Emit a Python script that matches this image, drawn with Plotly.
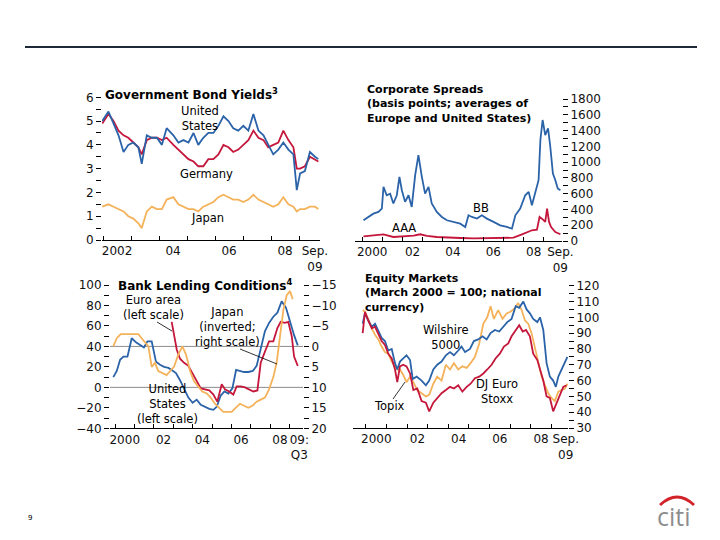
import plotly.graph_objects as go

W, H = 720, 540
FONT = "DejaVu Sans"
BLUE, RED, ORANGE = "#2b63a9", "#c4173b", "#f4b25a"


def px(x):
    return x / W


def py(y):
    return 1 - y / H


# ---------------- data ----------------
# Panel 1: Government bond yields (%), decimal years
gb_years = [2001.97, 2002.19, 2002.37, 2002.55, 2002.73, 2002.90, 2003.08, 2003.26, 2003.38, 2003.56,
            2003.74, 2003.92, 2004.10, 2004.27, 2004.51, 2004.69, 2004.87, 2005.05, 2005.23, 2005.40,
            2005.58, 2005.76, 2005.94, 2006.12, 2006.30, 2006.48, 2006.65, 2006.83, 2007.01, 2007.19,
            2007.37, 2007.55, 2007.73, 2007.90, 2008.08, 2008.26, 2008.44, 2008.62, 2008.80, 2008.92,
            2009.04, 2009.21, 2009.39, 2009.57, 2009.69]
us_yield = [5.0, 5.4, 4.9, 4.4, 3.7, 4.0, 4.1, 3.9, 3.2, 4.4,
            4.3, 4.3, 4.0, 4.7, 4.4, 4.1, 4.2, 4.1, 4.5, 4.0,
            4.3, 4.5, 4.5, 4.8, 5.2, 5.0, 4.7, 4.6, 4.8, 4.6,
            5.3, 4.6, 4.4, 4.0, 3.6, 3.8, 4.1, 3.8, 3.6, 2.1,
            2.8, 2.9, 3.7, 3.5, 3.4]
de_yield = [4.9, 5.3, 5.0, 4.6, 4.4, 4.3, 4.1, 3.9, 3.6, 4.2,
            4.3, 4.3, 4.2, 4.3, 4.0, 3.8, 3.6, 3.4, 3.3, 3.1,
            3.1, 3.4, 3.4, 3.6, 4.0, 3.9, 3.7, 3.8, 4.0, 4.2,
            4.6, 4.3, 4.2, 3.9, 4.0, 4.1, 4.6, 4.2, 3.9, 3.0,
            3.0, 3.1, 3.5, 3.4, 3.3]
jp_yield = [1.4, 1.5, 1.4, 1.3, 1.2, 1.0, 0.9, 0.7, 0.5, 1.2,
            1.4, 1.3, 1.3, 1.7, 1.8, 1.5, 1.4, 1.3, 1.3, 1.2,
            1.4, 1.5, 1.6, 1.8, 1.9, 1.8, 1.7, 1.7, 1.6, 1.7,
            1.9, 1.7, 1.6, 1.5, 1.4, 1.5, 1.8, 1.5, 1.4, 1.2,
            1.3, 1.3, 1.4, 1.4, 1.3]

# Panel 2: Corporate spreads (basis points)
bb_years = [2000.07, 2000.31, 2000.56, 2000.81, 2000.98, 2001.06, 2001.22, 2001.39, 2001.55, 2001.72,
            2001.85, 2001.97, 2002.13, 2002.30, 2002.46, 2002.63, 2002.79, 2002.96, 2003.12, 2003.29,
            2003.45, 2003.70, 2003.95, 2004.20, 2004.53, 2004.86, 2005.11, 2005.27, 2005.44, 2005.69,
            2005.93, 2006.18, 2006.51, 2006.84, 2007.17, 2007.42, 2007.59, 2007.83, 2008.08, 2008.25,
            2008.41, 2008.58, 2008.74, 2008.83, 2008.94, 2009.07, 2009.21, 2009.32, 2009.45, 2009.57,
            2009.69, 2009.82]
bb_spread = [263, 305, 347, 369, 411, 686, 580, 600, 475, 580,
             813, 644, 496, 580, 432, 835, 1089, 813, 600, 686,
             475, 369, 305, 263, 242, 220, 178, 326, 305, 284,
             326, 284, 242, 199, 178, 157, 326, 411, 580, 623,
             453, 600, 771, 1280, 1534, 1343, 1428, 1195, 856, 771,
             665, 644]
aaa_years = [2000.07, 2000.56, 2001.06, 2001.55, 2002.05, 2002.55, 2002.88, 2003.21, 2003.70, 2004.20,
             2004.86, 2005.52, 2006.18, 2006.84, 2007.50, 2007.92, 2008.17, 2008.41, 2008.66, 2008.79,
             2008.96, 2009.07, 2009.16, 2009.26, 2009.36, 2009.57, 2009.82]
aaa_spread = [59, 72, 85, 51, 59, 68, 85, 64, 51, 42,
              38, 34, 34, 38, 42, 85, 114, 136, 144, 305,
              271, 242, 411, 242, 178, 114, 85]

# Panel 3: Bank lending conditions
us_bl_years = [1999.91, 2000.09, 2000.26, 2000.43, 2000.64, 2000.86, 2001.08, 2001.29, 2001.49, 2001.67,
               2001.89, 2002.11, 2002.32, 2002.53, 2002.75, 2002.92, 2003.14, 2003.35, 2003.56, 2003.78,
               2004.00, 2004.21, 2004.42, 2004.64, 2004.86, 2005.07, 2005.24, 2005.45, 2005.64, 2005.84,
               2006.05, 2006.24, 2006.44, 2006.65, 2006.87, 2007.10, 2007.30, 2007.51, 2007.73, 2007.94,
               2008.16, 2008.37, 2008.59, 2008.81, 2009.02, 2009.23, 2009.42]
us_lending = [10, 16, 27, 30, 30, 48, 44, 41, 39, 45,
              45, 25, 22, 20, 19, 17, 14, 7, -1, -10,
              -15, -12, -17, -19, -21, -22, -19, -8, -4, -6,
              -1, 17, 16, 15, 15, 16, 21, 37, 55, 63,
              69, 73, 84, 78, 64, 51, 41]
euro_bl_years = [2002.92, 2003.04, 2003.18, 2003.35, 2003.56, 2003.78, 2003.99, 2004.21, 2004.42, 2004.64,
                 2004.86, 2005.07, 2005.27, 2005.50, 2005.67, 2005.88, 2006.10, 2006.27, 2006.48, 2006.70,
                 2006.91, 2007.13, 2007.34, 2007.51, 2007.73, 2007.94, 2008.16, 2008.37, 2008.54, 2008.76,
                 2008.93, 2009.11, 2009.23, 2009.42]
euro_lending = [64, 51, 37, 28, 24, 21, 14, 7, -1, -2,
                -3, -7, -14, 3, -2, -4, -7, 1, 1, 0,
                -2, -4, -3, 24, 35, 45, 45, 58, 64, 63,
                64, 50, 30, 21]
jp_bl_years = [1999.91, 2000.09, 2000.29, 2000.52, 2000.74, 2000.95, 2001.20, 2001.37, 2001.55, 2001.72,
               2001.89, 2002.06, 2002.23, 2002.46, 2002.66, 2002.84, 2003.04, 2003.26, 2003.47, 2003.66,
               2003.87, 2004.07, 2004.30, 2004.50, 2004.73, 2004.93, 2005.15, 2005.36, 2005.58, 2005.79,
               2006.01, 2006.22, 2006.44, 2006.65, 2006.87, 2007.08, 2007.30, 2007.51, 2007.73, 2007.94,
               2008.16, 2008.33, 2008.51, 2008.68, 2008.85, 2009.02, 2009.16]
jp_lending = [0, -2, -3, -3, -3, -3, -3, -2, -1, 0,
              5, 4, 6, 6.5, 7, 6, 5, 2, 0, 2,
              6, 8.5, 10, 11, 11.5, 12.5, 14, 15, 16, 16,
              16, 15, 14, 14.5, 15, 14.5, 13.5, 13, 12.5, 10.5,
              7.5, 4, -2.5, -9, -12.5, -13.5, -11.5]

# Panel 4: Equity markets (March 2000 = 100)
wil_years = [1999.84, 1999.95, 2000.11, 2000.28, 2000.44, 2000.60, 2000.76, 2000.92, 2001.08, 2001.25,
             2001.41, 2001.52, 2001.65, 2001.81, 2001.97, 2002.14, 2002.27, 2002.46, 2002.70, 2002.91,
             2003.07, 2003.27, 2003.46, 2003.67, 2003.88, 2004.08, 2004.27, 2004.48, 2004.64, 2004.81,
             2005.05, 2005.24, 2005.45, 2005.66, 2005.86, 2006.05, 2006.26, 2006.47, 2006.67, 2006.86,
             2007.07, 2007.27, 2007.44, 2007.64, 2007.80, 2007.96, 2008.12, 2008.32, 2008.45, 2008.61,
             2008.77, 2008.93, 2009.09, 2009.22, 2009.34, 2009.50, 2009.66, 2009.78]
wilshire = [96, 102.5, 98, 94, 96, 91, 87, 85, 79, 80,
            71, 67, 72, 74, 76, 73, 61, 62.5, 60, 57,
            60, 67, 70, 72, 76, 78, 76, 79, 81.5, 78,
            80, 85, 86, 88, 86, 90, 92, 91, 94, 97,
            99, 107, 106, 110, 105, 102.5, 99, 97, 100, 92,
            71, 62.5, 60, 56, 62.5, 67, 71, 75]
stoxx_years = [1999.84, 1999.95, 2000.11, 2000.28, 2000.44, 2000.60, 2000.76, 2000.92, 2001.08, 2001.25,
               2001.41, 2001.52, 2001.65, 2001.81, 2001.97, 2002.14, 2002.30, 2002.49, 2002.70, 2002.91,
               2003.07, 2003.27, 2003.46, 2003.67, 2003.88, 2004.08, 2004.27, 2004.48, 2004.68, 2004.89,
               2005.08, 2005.29, 2005.50, 2005.70, 2005.89, 2006.10, 2006.29, 2006.50, 2006.70, 2006.91,
               2007.07, 2007.27, 2007.44, 2007.61, 2007.77, 2007.96, 2008.12, 2008.32, 2008.45, 2008.61,
               2008.77, 2008.93, 2009.09, 2009.26, 2009.42, 2009.58, 2009.74]
dj_euro_stoxx = [90, 103.5, 98, 93, 94, 90, 85, 82.5, 77, 74,
                 67, 59, 69, 70, 69, 64.5, 54, 55, 47, 46,
                 40.5, 46, 49, 52, 54, 56, 55, 57, 53, 56,
                 58, 61.5, 62.5, 64.5, 67, 70, 74, 77, 81.5, 83.5,
                 88, 92, 95, 91, 92, 88, 77, 73, 67, 60,
                 50, 49, 40.5, 46, 52, 56, 57]
topix_years = [1999.84, 1999.95, 2000.11, 2000.28, 2000.44, 2000.60, 2000.76, 2000.92, 2001.08, 2001.25,
               2001.41, 2001.52, 2001.65, 2001.81, 2001.97, 2002.14, 2002.30, 2002.49, 2002.70, 2002.91,
               2003.07, 2003.27, 2003.46, 2003.67, 2003.88, 2004.08, 2004.27, 2004.48, 2004.68, 2004.89,
               2005.08, 2005.29, 2005.50, 2005.70, 2005.89, 2006.05, 2006.21, 2006.42, 2006.63, 2006.83,
               2007.02, 2007.23, 2007.39, 2007.56, 2007.72, 2007.88, 2008.04, 2008.20, 2008.37, 2008.53,
               2008.69, 2008.85, 2009.01, 2009.17, 2009.34, 2009.50, 2009.66, 2009.78]
topix = [104.6, 103.5, 99, 93, 89, 86, 81.5, 78, 77, 72,
         69, 67, 67, 63.5, 59, 62.5, 59, 54, 52, 50,
         51, 58, 62.5, 60, 70, 67, 71, 67, 69, 68,
         71, 75, 83.5, 96, 100, 107, 99, 104.6, 99, 102.5,
         103.5, 105.7, 109, 104.6, 98, 96, 90, 81.5, 73, 62.5,
         57, 52, 49, 47, 53, 54, 55, 58]

# Tick labels
p1_tick_years = [2002.5, 2004.5, 2006.5, 2008.5, 2009.57]
p1_tick_text = ["2002", "04", "06", "08", "Sep.<br>09"]
p1_year_marks = list(range(2002, 2010))
p2_tick_years = [2000.5, 2002.5, 2004.5, 2006.5, 2008.5, 2009.82]
p2_tick_text = ["2000", "02", "04", "06", "08", "Sep.<br>09"]
p3_tick_years = [2000.5, 2002.5, 2004.5, 2006.5, 2008.5, 2009.5]
p3_tick_text = ["2000", "02", "04", "06", "08", "09:<br>Q3"]
p4_tick_years = [2000.5, 2002.5, 2004.5, 2006.5, 2008.5, 2009.7]
p4_tick_text = ["2000", "02", "04", "06", "08", "Sep.<br>09"]
decade_year_marks = list(range(2000, 2010))

# ---------------- figure ----------------
fig = go.Figure()


def line(x, y, xa, ya, color):
    fig.add_trace(go.Scatter(x=x, y=y, xaxis=xa, yaxis=ya, mode="lines",
                             line=dict(color=color, width=1.8), showlegend=False,
                             hoverinfo="skip"))


# panel 1
line(gb_years, jp_yield, "x", "y", ORANGE)
line(gb_years, de_yield, "x", "y", RED)
line(gb_years, us_yield, "x", "y", BLUE)
# panel 2
line(aaa_years, aaa_spread, "x2", "y2", RED)
line(bb_years, bb_spread, "x2", "y2", BLUE)
# panel 3
line(jp_bl_years, jp_lending, "x3", "y7", ORANGE)
line(us_bl_years, us_lending, "x3", "y3", BLUE)
line(euro_bl_years, euro_lending, "x3", "y3", RED)
# panel 4
line(topix_years, topix, "x4", "y4", ORANGE)
line(wil_years, wilshire, "x4", "y4", BLUE)
line(stoxx_years, dj_euro_stoxx, "x4", "y4", RED)

TICKFONT = dict(family=FONT, size=12, color="#111111")


def xax(x0, x1, rng, tv, tt, marks, anchor):
    return dict(domain=[px(x0), px(x1)], range=rng, anchor=anchor,
                showline=True, linecolor="black", linewidth=1,
                tickmode="array", tickvals=tv, ticktext=tt, ticks="", tickangle=0,
                minor=dict(tickmode="array", tickvals=marks, ticks="inside",
                           ticklen=4, tickwidth=1, tickcolor="black"),
                showgrid=False, zeroline=False, automargin=False,
                fixedrange=True, tickfont=TICKFONT)


def yax(y_bottom, y_top, rng, dtick, mdtick, side, anchor, labels=True, overlaying=None):
    d = dict(range=rng, side=side, anchor=anchor, showline=False,
             ticks="outside", ticklen=5, tickwidth=1, tickcolor="black",
             tickmode="linear", tick0=0, dtick=dtick,
             showgrid=False, zeroline=False, showticklabels=labels,
             automargin=False, fixedrange=True, tickfont=TICKFONT)
    if mdtick:
        d["minor"] = dict(ticks="outside", ticklen=5, tickwidth=1, tickcolor="black",
                          tickmode="linear", tick0=0, dtick=mdtick, showgrid=False)
    if overlaying:
        d["overlaying"] = overlaying
    else:
        d["domain"] = [py(y_bottom), py(y_top)]
    return d


fig.update_layout(
    width=W, height=H, margin=dict(l=0, r=0, t=0, b=0),
    paper_bgcolor="white", plot_bgcolor="rgba(0,0,0,0)", showlegend=False,
    xaxis=xax(102, 320, [2001.96, 2009.75], p1_tick_years, p1_tick_text, p1_year_marks, "y"),
    yaxis=yax(240, 97.3, [0, 6], 1, 0.5, "left", "x"),
    yaxis5=yax(240, 97.3, [0, 6], 0.5, None, "right", "x", labels=False, overlaying="y"),
    xaxis2=xax(355, 562, [1999.65, 2009.9], p2_tick_years, p2_tick_text, decade_year_marks, "y2"),
    yaxis2=yax(241, 99, [0, 1800], 200, 100, "right", "x2"),
    yaxis6=yax(241, 99, [0, 1800], 100, None, "left", "x2", labels=False, overlaying="y2"),
    xaxis3=xax(110, 303, [1999.74, 2009.69], p3_tick_years, p3_tick_text, decade_year_marks, "y3"),
    yaxis3=yax(428.3, 285, [-40, 100], 20, 10, "left", "x3"),
    yaxis7=yax(428.3, 285, [20, -15], 5, 2.5, "right", "x3", overlaying="y3"),
    xaxis4=xax(353, 568, [1999.37, 2009.81], p4_tick_years, p4_tick_text, decade_year_marks, "y4"),
    yaxis4=yax(428, 285.7, [30, 120], 10, 5, "right", "x4"),
    yaxis8=yax(428, 285.7, [30, 120], 5, None, "left", "x4", labels=False, overlaying="y4"),
)

annotations = []


def text(t, x, y, anchor="center", bold=False, size=11.5, color="black", family=FONT, align="center"):
    annotations.append(dict(
        x=px(x), y=py(y), xref="paper", yref="paper",
        text=("<b>%s</b>" % t) if bold else t, showarrow=False,
        xanchor=anchor, yanchor="middle", borderpad=0, align=align,
        font=dict(family=family, size=size, color=color)))


# panel titles
text("Government Bond Yields<sup>3</sup>", 104, 94, anchor="left", bold=True, size=12)
text("Corporate Spreads<br>(basis points; averages of<br>Europe and United States)",
     366, 104, anchor="left", bold=True, size=11, align="left")
text("Bank Lending Conditions<sup>4</sup>", 117, 285, anchor="left", bold=True, size=12)
text("Equity Markets<br>(March 2000 = 100; national<br>currency)",
     364, 293, anchor="left", bold=True, size=11, align="left")

# series labels
text("United<br>States", 200, 118)
text("Germany", 207, 174)
text("Japan", 208, 218)
text("BB", 481, 208)
text("AAA", 404, 228)
text("Euro area<br>(left scale)", 153, 307)
text("Japan<br>(inverted;<br>right scale)", 227, 327)
text("United<br>States<br>(left scale)", 167, 404)
text("Wilshire<br>5000", 446, 337)
text("DJ Euro<br>Stoxx", 497, 391)
text("Topix", 389, 406)

# footer
text("9", 30, 518, size=7)
text("citi", 674, 516, size=25, color="#8d8d8d", family="Open Sans")

fig.update_layout(annotations=annotations)

shapes = [
    # header rule
    dict(type="line", xref="paper", yref="paper", x0=px(25), x1=px(697), y0=py(47), y1=py(47),
         line=dict(color="#1d2939", width=2)),
    # reference lines in bank lending panel
    dict(type="line", xref="x3 domain", yref="y3", x0=0, x1=1, y0=40, y1=40,
         line=dict(color="#8c8c8c", width=1), layer="below"),
    dict(type="line", xref="x3 domain", yref="y3", x0=0, x1=1, y0=0, y1=0,
         line=dict(color="#8c8c8c", width=1), layer="below"),
    # label pointers
    dict(type="line", xref="paper", yref="paper", x0=px(157), y0=py(322), x1=px(172), y1=py(331),
         line=dict(color="black", width=0.8)),
    dict(type="line", xref="paper", yref="paper", x0=px(240), y0=py(349), x1=px(277), y1=py(364),
         line=dict(color="black", width=0.8)),
    dict(type="line", xref="paper", yref="paper", x0=px(393), y0=py(399), x1=px(405), y1=py(382),
         line=dict(color="black", width=0.8)),
    # citi arc
    dict(type="path", xref="paper", yref="paper",
         path="M %.4f,%.4f Q %.4f,%.4f %.4f,%.4f" % (px(660), py(505), px(677), py(489), px(694), py(505)),
         line=dict(color="#d2232a", width=3)),
]
fig.update_layout(shapes=shapes)

fig.write_html("out.html", config={"displayModeBar": False},
               post_script="document.body.style.margin='0px';")
